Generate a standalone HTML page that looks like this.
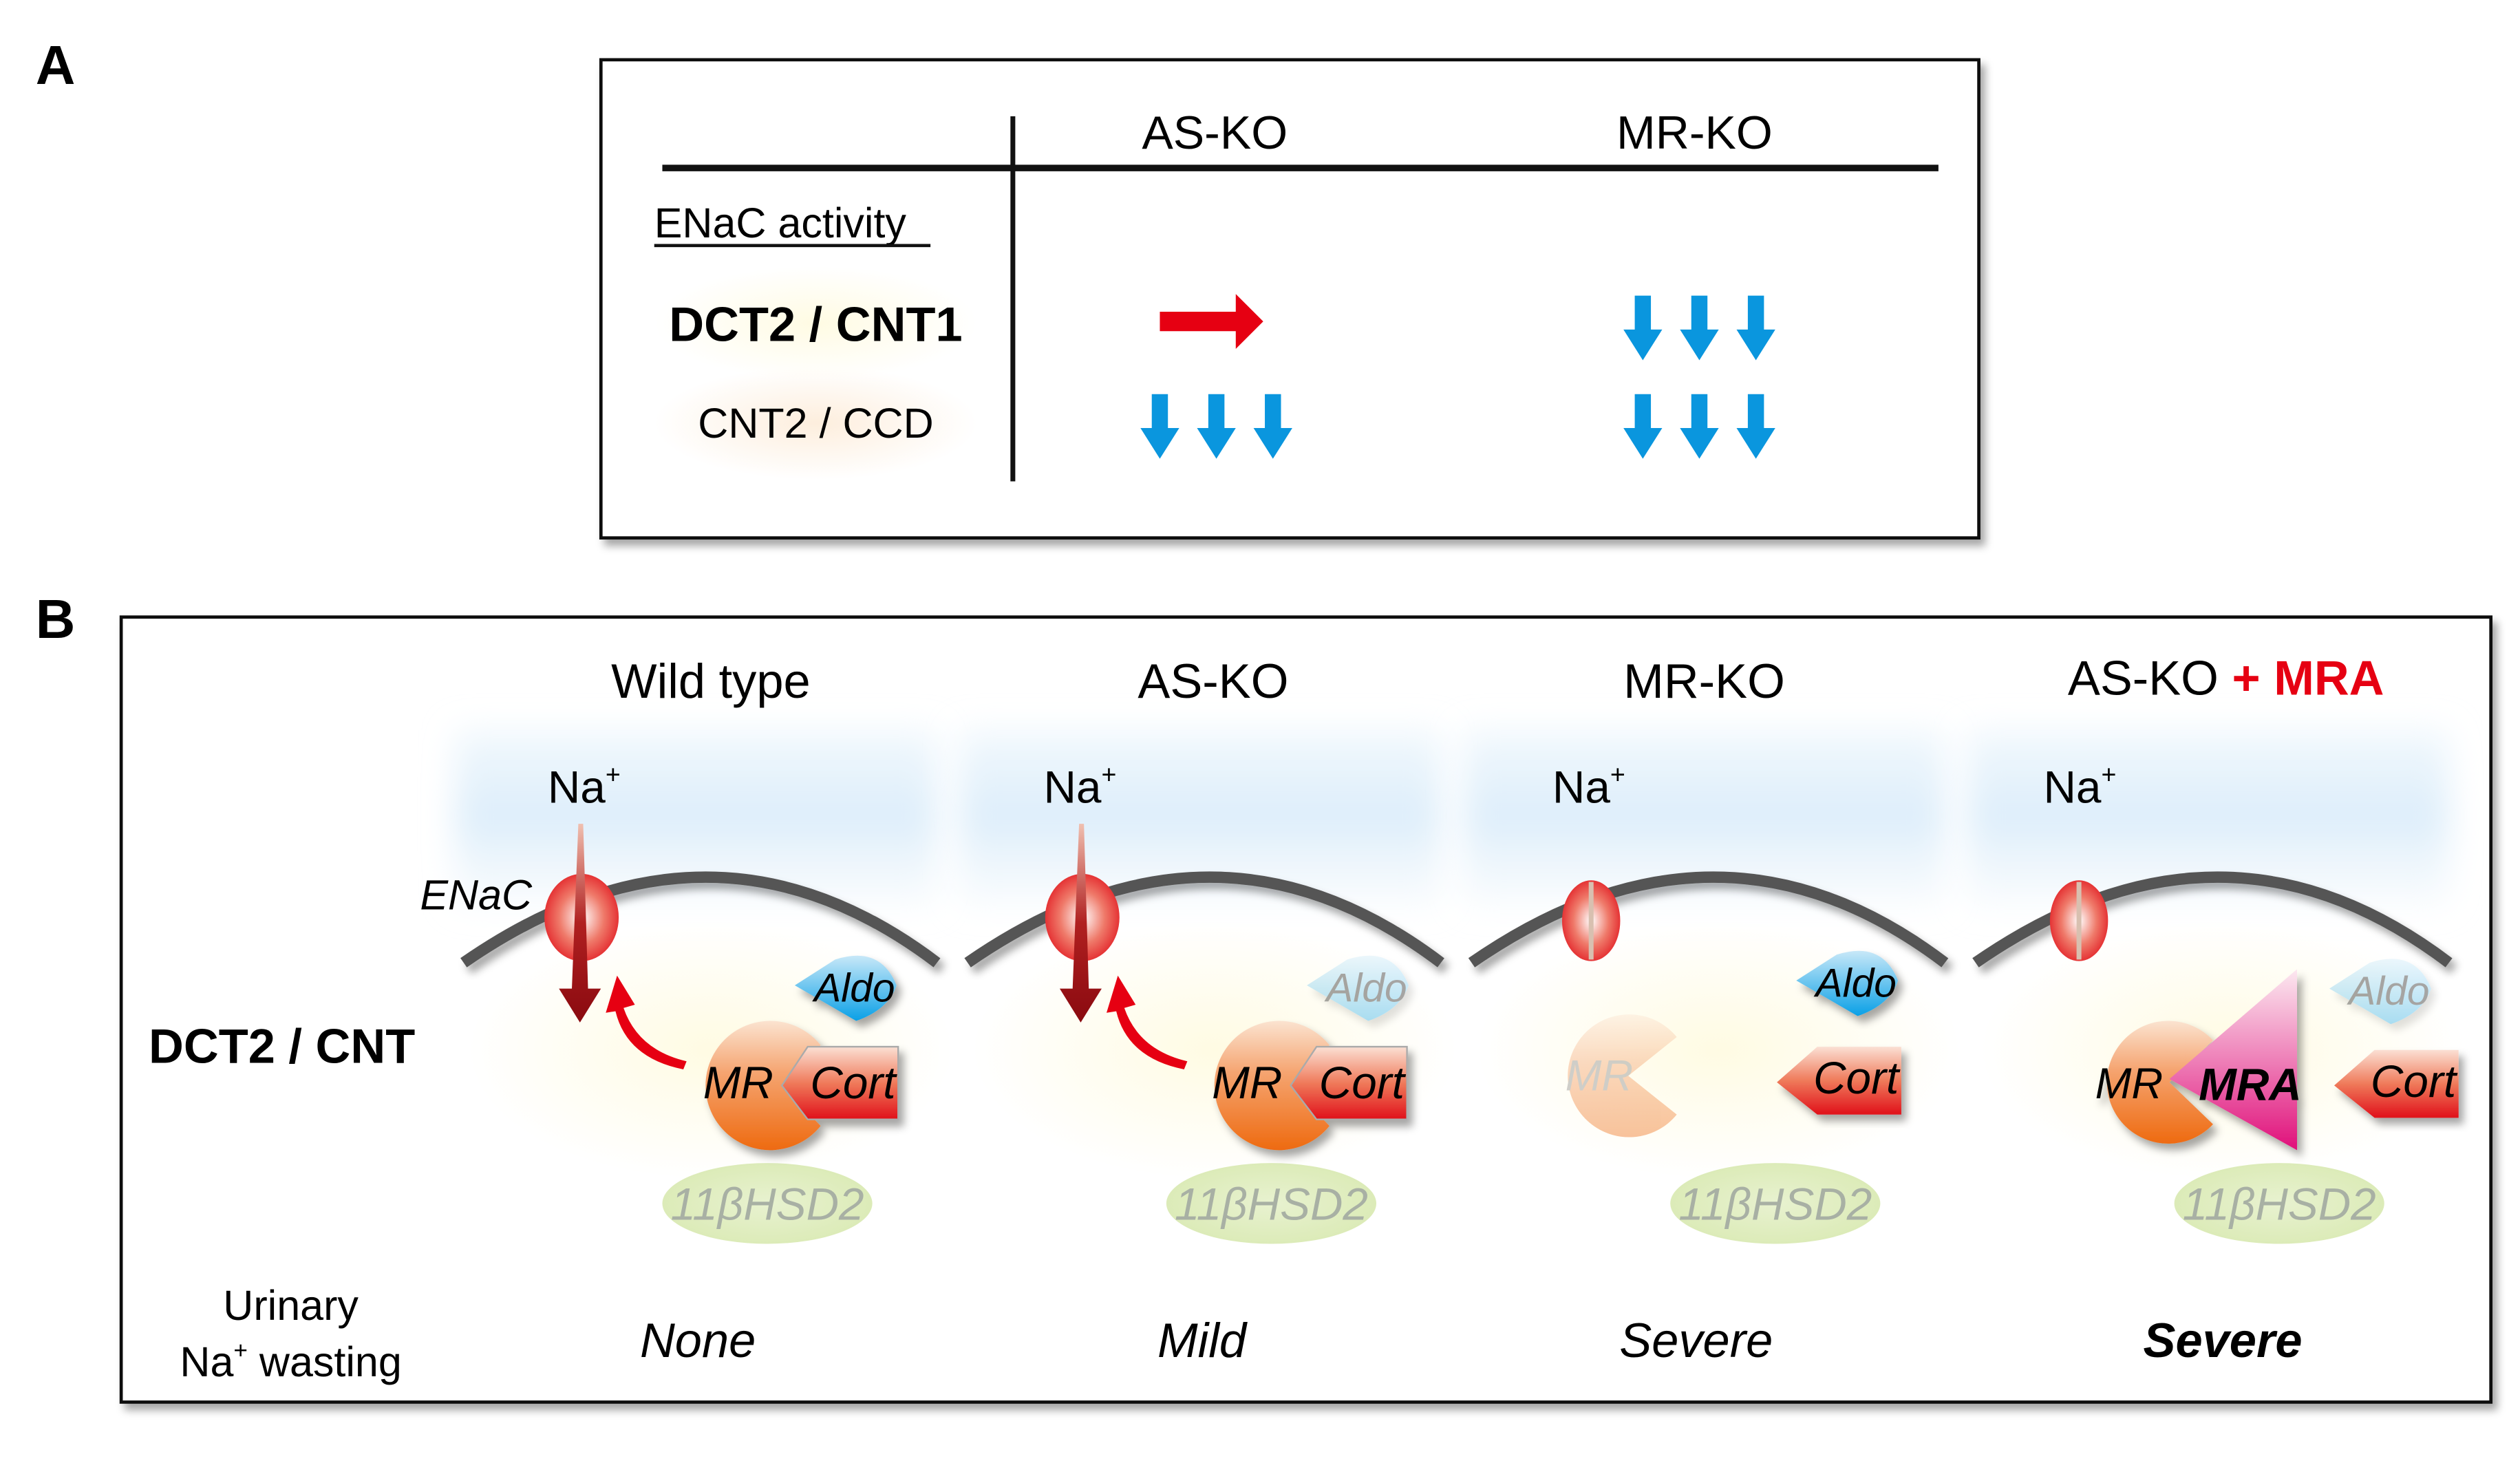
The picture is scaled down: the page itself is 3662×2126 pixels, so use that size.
<!DOCTYPE html>
<html><head><meta charset="utf-8"><style>html,body{margin:0;padding:0;background:#fff}svg{display:block}</style></head>
<body>
<svg width="3662" height="2126" viewBox="0 0 1560 905.7" xmlns="http://www.w3.org/2000/svg" font-family="Liberation Sans, sans-serif">
<defs>
<filter id="sh" x="-20%" y="-20%" width="140%" height="140%"><feDropShadow dx="3" dy="4" stdDeviation="2.5" flood-color="#000" flood-opacity="0.35"/></filter>
<filter id="bl" x="-30%" y="-30%" width="160%" height="160%"><feGaussianBlur stdDeviation="10"/></filter>
<linearGradient id="sky" x1="0" y1="0" x2="0" y2="1"><stop offset="0" stop-color="#e3f1fb" stop-opacity="0.5"/><stop offset="0.5" stop-color="#dcedfa"/><stop offset="1" stop-color="#eef6fc" stop-opacity="0.4"/></linearGradient>
<radialGradient id="yel"><stop offset="0" stop-color="#fffbe3"/><stop offset="1" stop-color="#fffbe3" stop-opacity="0"/></radialGradient>
<radialGradient id="ora"><stop offset="0" stop-color="#fdeedd"/><stop offset="1" stop-color="#fdeedd" stop-opacity="0"/></radialGradient>
<radialGradient id="enac" cx="0.5" cy="0.5" r="0.6"><stop offset="0" stop-color="#fff"/><stop offset="0.5" stop-color="#ef7a6a"/><stop offset="1" stop-color="#e0101a"/></radialGradient>
<linearGradient id="mr" x1="0" y1="0" x2="0" y2="1"><stop offset="0" stop-color="#fbe3d0"/><stop offset="0.4" stop-color="#f5a470"/><stop offset="1" stop-color="#ee6a10"/></linearGradient>
<linearGradient id="cort" x1="0" y1="0" x2="0" y2="1"><stop offset="0" stop-color="#fbe0d4"/><stop offset="0.5" stop-color="#ef7a5a"/><stop offset="1" stop-color="#e0101a"/></linearGradient>
<linearGradient id="aldo" x1="0" y1="0" x2="0" y2="1"><stop offset="0" stop-color="#c8e8f8"/><stop offset="1" stop-color="#0aa0e6"/></linearGradient>
<linearGradient id="mra" x1="0" y1="0" x2="0" y2="1"><stop offset="0" stop-color="#fce8f0"/><stop offset="0.5" stop-color="#ee80b8"/><stop offset="1" stop-color="#e0107a"/></linearGradient>
<linearGradient id="na" x1="0" y1="0" x2="0" y2="1"><stop offset="0" stop-color="#f0c0b0"/><stop offset="0.5" stop-color="#b02020"/><stop offset="1" stop-color="#8a0a10"/></linearGradient>
<radialGradient id="hsd"><stop offset="0" stop-color="#e8f2d0"/><stop offset="1" stop-color="#dcebb8"/></radialGradient>
</defs>

<!-- Panel A -->
<text x="22" y="52" font-size="34" font-weight="bold">A</text>
<rect x="372" y="37" width="853" height="296" fill="#fff" stroke="#111" stroke-width="2" filter="url(#sh)"/>
<line x1="627" y1="72" x2="627" y2="298" stroke="#111" stroke-width="3"/>
<line x1="410" y1="104" x2="1200" y2="104" stroke="#111" stroke-width="4"/>
<text x="752" y="92" font-size="29" text-anchor="middle">AS-KO</text>
<text x="1049" y="92" font-size="29" text-anchor="middle">MR-KO</text>
<text x="405" y="147" font-size="26">ENaC activity</text>
<line x1="405" y1="152" x2="576" y2="152" stroke="#111" stroke-width="2"/>
<ellipse cx="505" cy="200" rx="100" ry="35" fill="url(#yel)"/>
<ellipse cx="505" cy="262" rx="100" ry="35" fill="url(#ora)"/>
<text x="505" y="211" font-size="30" font-weight="bold" text-anchor="middle">DCT2 / CNT1</text>
<text x="505" y="271" font-size="26" text-anchor="middle">CNT2 / CCD</text>
<path d="M718 193 H765 V182 L782 199 L765 216 V205 H718 Z" fill="#e60012"/>
<g fill="#0a96de">
<g id="d3"><path d="M1012 183 h10 v21 h7 l-12 19 l-12 -19 h7 z"/><path d="M1047 183 h10 v21 h7 l-12 19 l-12 -19 h7 z"/><path d="M1082 183 h10 v21 h7 l-12 19 l-12 -19 h7 z"/></g>
<use href="#d3" transform="translate(0,61)"/>
<use href="#d3" transform="translate(-299,61)"/>
</g>

<!-- Panel B -->
<text x="22" y="395" font-size="34" font-weight="bold">B</text>
<rect x="75" y="382" width="1467" height="486" fill="#fff" stroke="#111" stroke-width="2" filter="url(#sh)"/>
<text x="440" y="432" font-size="30" text-anchor="middle">Wild type</text>
<text x="751" y="432" font-size="30" text-anchor="middle">AS-KO</text>
<text x="1055" y="432" font-size="30" text-anchor="middle">MR-KO</text>
<text x="1378" y="430" font-size="30" text-anchor="middle">AS-KO <tspan fill="#e60012" font-weight="bold">+ MRA</tspan></text>
<text x="92" y="658" font-size="30" font-weight="bold">DCT2 / CNT</text>
<text x="180" y="817" font-size="26" text-anchor="middle">Urinary</text>
<text x="180" y="852" font-size="26" text-anchor="middle">Na<tspan font-size="15" dy="-11">+</tspan><tspan dy="11"> wasting</tspan></text>
<g font-size="30" font-style="italic" text-anchor="middle">
<text x="432" y="840">None</text><text x="744" y="840">Mild</text><text x="1050" y="840">Severe</text><text x="1376" y="840" font-weight="bold">Severe</text>
</g>

<g id="bg">
<rect x="282" y="452" width="298" height="108" fill="url(#sky)" filter="url(#bl)"/>
<ellipse cx="440" cy="650" rx="150" ry="80" fill="url(#yel)"/>
<path d="M287 596 Q440 490 580 596" fill="none" stroke="#555" stroke-width="7" filter="url(#sh)"/>
<ellipse cx="475" cy="745" rx="65" ry="25" fill="url(#hsd)"/>
<text x="475" y="755" font-size="28" font-style="italic" fill="#a8b0a4" text-anchor="middle">11βHSD2</text>
</g>
<use href="#bg" transform="translate(312,0)"/>
<use href="#bg" transform="translate(624,0)"/>
<use href="#bg" transform="translate(936,0)"/>

<g font-size="28"><text x="339" y="497">Na<tspan font-size="16" dy="-12">+</tspan></text>
<text x="646" y="497">Na<tspan font-size="16" dy="-12">+</tspan></text>
<text x="961" y="497">Na<tspan font-size="16" dy="-12">+</tspan></text>
<text x="1265" y="497">Na<tspan font-size="16" dy="-12">+</tspan></text></g>
<text x="260" y="563" font-size="26" font-style="italic">ENaC</text>

<g id="act">
<ellipse cx="360" cy="568" rx="23" ry="27" fill="url(#enac)"/>
<path d="M358 510 L361 510 L364 612 L372 612 L359 633 L346 612 L354 612 Z" fill="url(#na)"/>
<path d="M425 657 Q395 650 386 624 L393 622 L382 604 L375 627 L381 626 Q388 655 423 662 Z" fill="#e60012"/>
</g>
<use href="#act" transform="translate(310,0)"/>
<g id="cl"><ellipse cx="985" cy="570" rx="18" ry="25" fill="url(#enac)"/><line x1="985" y1="546" x2="985" y2="594" stroke="#d8c0b0" stroke-width="3"/></g>
<use href="#cl" transform="translate(302,0)"/>

<g id="al" filter="url(#sh)"><path d="M492 610 L517 594 Q545 585 555 610 Q550 625 530 632 Z" fill="url(#aldo)"/>
<text x="529" y="620" font-size="25" font-style="italic" text-anchor="middle">Aldo</text></g>
<use href="#al" transform="translate(620,-3)"/>
<g opacity="0.35"><use href="#al" transform="translate(317,0)"/><use href="#al" transform="translate(950,2)"/></g>

<g id="mc" filter="url(#sh)">
<path d="M484 672 L508 647 A40 40 0 1 0 508 697 Z" fill="url(#mr)"/>
<path d="M484 672 L500 648 H556 V693 H500 Z" fill="url(#cort)" stroke="#aaa" stroke-width="1"/>
<text x="457" y="680" font-size="28" font-style="italic" text-anchor="middle">MR</text>
<text x="528" y="680" font-size="28" font-style="italic" text-anchor="middle">Cort</text>
</g>
<use href="#mc" transform="translate(315,0)"/>
<g opacity="0.4"><path d="M1008 666 L1038 642 A38 38 0 1 0 1038 690 Z" fill="url(#mr)"/><text x="990" y="675" font-size="27" font-style="italic" fill="#888" text-anchor="middle">MR</text></g>
<g id="ct" filter="url(#sh)"><path d="M1100 670 L1125 648 H1177 V690 H1125 Z" fill="url(#cort)"/>
<text x="1149" y="677" font-size="28" font-style="italic" text-anchor="middle">Cort</text></g>
<use href="#ct" transform="translate(345,2)"/>
<g filter="url(#sh)">
<path d="M1343 670 L1370 644 A38 38 0 1 0 1370 696 Z" fill="url(#mr)"/>
<path d="M1343 668 L1422 600 V712 Z" fill="url(#mra)"/>
<text x="1318" y="680" font-size="27" font-style="italic" text-anchor="middle">MR</text>
<text x="1393" y="681" font-size="28" font-style="italic" font-weight="bold" text-anchor="middle">MRA</text>
</g>
</svg>
</body></html>
